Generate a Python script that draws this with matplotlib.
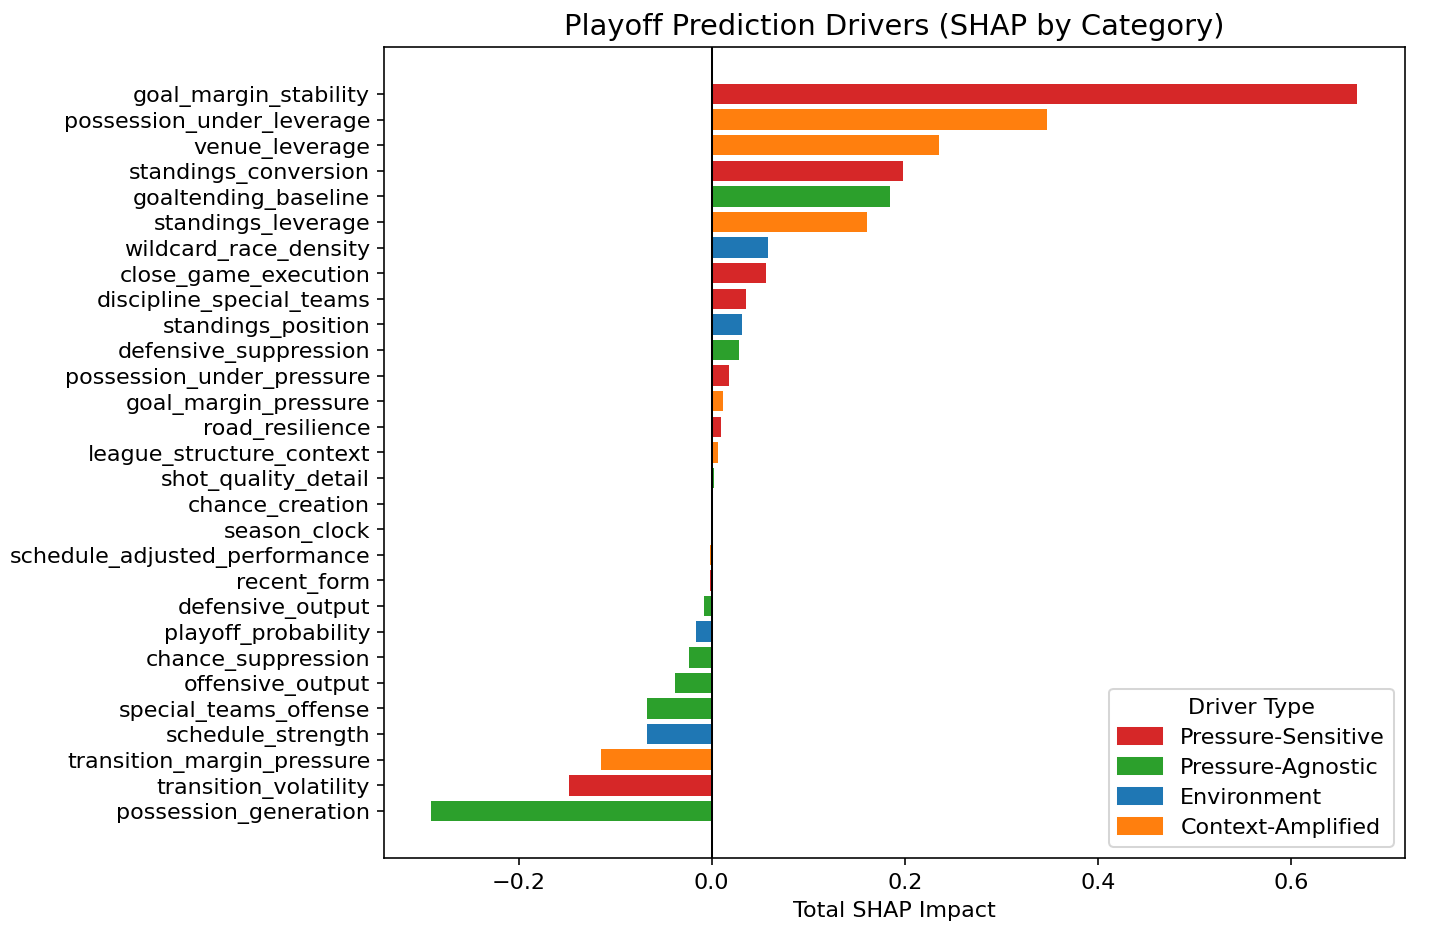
import matplotlib
matplotlib.use("Agg")
import matplotlib.pyplot as plt
from matplotlib.patches import Patch

features = [
    "goal_margin_stability", "possession_under_leverage", "venue_leverage",
    "standings_conversion", "goaltending_baseline", "standings_leverage",
    "wildcard_race_density", "close_game_execution", "discipline_special_teams",
    "standings_position", "defensive_suppression", "possession_under_pressure",
    "goal_margin_pressure", "road_resilience", "league_structure_context",
    "shot_quality_detail", "chance_creation", "season_clock",
    "schedule_adjusted_performance", "recent_form", "defensive_output",
    "playoff_probability", "chance_suppression", "offensive_output",
    "special_teams_offense", "schedule_strength", "transition_margin_pressure",
    "transition_volatility", "possession_generation",
]
shap_values = [
    0.668, 0.347, 0.235, 0.198, 0.185, 0.161, 0.058, 0.056, 0.036, 0.031,
    0.028, 0.018, 0.012, 0.010, 0.006, 0.002, 0.0005, 0.0, -0.002, -0.002,
    -0.008, -0.016, -0.024, -0.038, -0.067, -0.067, -0.115, -0.148, -0.291,
]
categories = [
    "Pressure-Sensitive", "Context-Amplified", "Context-Amplified",
    "Pressure-Sensitive", "Pressure-Agnostic", "Context-Amplified",
    "Environment", "Pressure-Sensitive", "Pressure-Sensitive",
    "Environment", "Pressure-Agnostic", "Pressure-Sensitive",
    "Context-Amplified", "Pressure-Sensitive", "Context-Amplified",
    "Pressure-Agnostic", "Pressure-Agnostic", "Environment",
    "Context-Amplified", "Pressure-Sensitive", "Pressure-Agnostic",
    "Environment", "Pressure-Agnostic", "Pressure-Agnostic",
    "Pressure-Agnostic", "Environment", "Context-Amplified",
    "Pressure-Sensitive", "Pressure-Agnostic",
]
palette = {
    "Pressure-Sensitive": "#d62728",
    "Pressure-Agnostic": "#2ca02c",
    "Environment": "#1f77b4",
    "Context-Amplified": "#ff7f0e",
}

fig, ax = plt.subplots(figsize=(10, 6.5), dpi=145.6)
fig.subplots_adjust(left=0.264, right=0.965, top=0.95, bottom=0.093)

n = len(features)
ypos = list(range(n - 1, -1, -1))
ax.barh(ypos, shap_values, color=[palette[c] for c in categories])
ax.set_yticks(ypos)
ax.set_yticklabels(features)
ax.tick_params(labelsize=11)
ax.axvline(0, color="black", linewidth=1)
ax.set_xlim(-0.339, 0.718)
ax.set_xlabel("Total SHAP Impact", fontsize=11)
ax.set_title("Playoff Prediction Drivers (SHAP by Category)", fontsize=14.3)

handles = [Patch(color=col, label=lab) for lab, col in palette.items()]
ax.legend(handles=handles, title="Driver Type", loc="lower right", fontsize=11,
          title_fontsize=11, labelspacing=0.45)

fig.savefig("out.png", dpi=145.6)
